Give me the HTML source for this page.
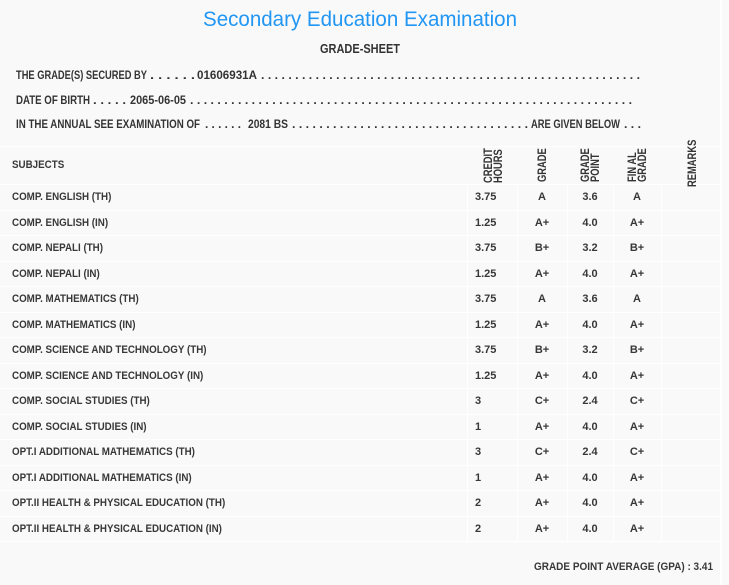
<!DOCTYPE html>
<html>
<head>
<meta charset="utf-8">
<style>
  html, body { margin:0; padding:0; }
  body { width:729px; height:585px; background:#f9f9f9; position:relative; overflow:hidden;
         font-family:"Liberation Sans", "DejaVu Sans", sans-serif; color:#363636; }
  .abs { position:absolute; }
  .fit { position:absolute; white-space:nowrap; line-height:1; }
  .fit > span { display:inline-block; transform-origin:0 0; }
  .title { font-size:21px; color:#2196f3; font-weight:normal; }
  .gs { font-size:13px; font-weight:bold; color:#333; }
  .hl { font-size:12px; font-weight:bold; color:#333; }
  .hline { position:absolute; left:0; width:720px; height:1px; background:#ffffff; }
  .vline { position:absolute; top:184px; height:357px; width:1px; background:#ffffff; }
  .row { position:absolute; left:0; width:720px; height:25.5px; font-size:11px; font-weight:bold; line-height:25.5px; color:#383838; }
  .row > div { position:absolute; top:1px; white-space:nowrap; }
  .sub { left:12px; transform:scaleX(0.89); transform-origin:0 50%; }
  .ch { left:475px; }
  .g { left:517px; width:50px; text-align:center; }
  .gp { left:567px; width:46px; text-align:center; }
  .fg { left:613px; width:48px; text-align:center; }
  .rot { position:absolute; font-size:12px; font-weight:bold; line-height:10px; white-space:nowrap; color:#333;
         transform-origin:0 0; transform:rotate(-90deg) scaleX(0.78); }
</style>
</head>
<body>

<!-- Title -->
<div class="fit title" style="left:203px; top:9px; width:314px;"><span>Secondary Education Examination</span></div>
<div class="fit gs" style="left:320px; top:42px; width:80px;"><span>GRADE-SHEET</span></div>

<!-- Header line 1 -->
<div class="fit hl" style="left:16px; top:69px; width:131px;"><span>THE GRADE(S) SECURED BY</span></div>
<div class="fit hl" style="left:150px; top:69px; width:45px;"><span>. . . . . .</span></div>
<div class="fit hl" style="left:197px; top:69px; width:60px;"><span>01606931A</span></div>
<div class="fit hl" style="left:261px; top:69px; width:379px;"><span>. . . . . . . . . . . . . . . . . . . . . . . . . . . . . . . . . . . . . . . . . . . . . . . . . . . . . . . .</span></div>

<!-- Header line 2 -->
<div class="fit hl" style="left:16px; top:93.5px; width:74px;"><span>DATE OF BIRTH</span></div>
<div class="fit hl" style="left:93px; top:93.5px; width:33px;"><span>. . . . .</span></div>
<div class="fit hl" style="left:130px; top:93.5px; width:56px;"><span>2065-06-05</span></div>
<div class="fit hl" style="left:190px; top:93.5px; width:442px;"><span>. . . . . . . . . . . . . . . . . . . . . . . . . . . . . . . . . . . . . . . . . . . . . . . . . . . . . . . . . . . . . . . . .</span></div>

<!-- Header line 3 -->
<div class="fit hl" style="left:16px; top:117.5px; width:184px;"><span>IN THE ANNUAL SEE EXAMINATION OF</span></div>
<div class="fit hl" style="left:205px; top:117.5px; width:36px;"><span>. . . . . .</span></div>
<div class="fit hl" style="left:248px; top:117.5px; width:40px;"><span>2081 BS</span></div>
<div class="fit hl" style="left:292px; top:117.5px; width:236px;"><span>. . . . . . . . . . . . . . . . . . . . . . . . . . . . . . . . . . .</span></div>
<div class="fit hl" style="left:531px; top:117.5px; width:89px;"><span>ARE GIVEN BELOW</span></div>
<div class="fit hl" style="left:624px; top:117.5px; width:17px;"><span>. . .</span></div>

<!-- right edge line -->
<div class="abs" style="left:720px; top:0; width:2px; height:585px; background:#ffffff;"></div>

<!-- horizontal lines -->
<div class="hline" style="top:146px;"></div>
<div class="hline" style="top:184px;"></div>
<div class="hline" style="top:209.5px;"></div>
<div class="hline" style="top:235px;"></div>
<div class="hline" style="top:260.5px;"></div>
<div class="hline" style="top:286px;"></div>
<div class="hline" style="top:311.5px;"></div>
<div class="hline" style="top:337px;"></div>
<div class="hline" style="top:362.5px;"></div>
<div class="hline" style="top:388px;"></div>
<div class="hline" style="top:413.5px;"></div>
<div class="hline" style="top:439px;"></div>
<div class="hline" style="top:464.5px;"></div>
<div class="hline" style="top:490px;"></div>
<div class="hline" style="top:515.5px;"></div>
<div class="hline" style="top:541px;"></div>

<!-- vertical lines -->
<div class="vline" style="left:467px;"></div>
<div class="vline" style="left:517px;"></div>
<div class="vline" style="left:567px;"></div>
<div class="vline" style="left:613px;"></div>
<div class="vline" style="left:661px;"></div>

<!-- table header -->
<div class="abs" style="left:12px; top:160px; font-size:11px; font-weight:bold; line-height:11px; color:#383838; transform:scaleX(0.89); transform-origin:0 0;">SUBJECTS</div>
<div class="rot" style="left:482.5px; top:183px;">CREDIT<br>HOURS</div>
<div class="rot" style="left:537px; top:182px;">GRADE</div>
<div class="rot" style="left:580px; top:182px;">GRADE<br>POINT</div>
<div class="rot" style="left:627px; top:182px;">FIN AL<br>GRADE</div>
<div class="rot" style="left:686.5px; top:187px;">REMARKS</div>

<!-- rows -->
<div class="row" style="top:184px;"><div class="sub">COMP. ENGLISH (TH)</div><div class="ch">3.75</div><div class="g">A</div><div class="gp">3.6</div><div class="fg">A</div></div>
<div class="row" style="top:209.5px;"><div class="sub">COMP. ENGLISH (IN)</div><div class="ch">1.25</div><div class="g">A+</div><div class="gp">4.0</div><div class="fg">A+</div></div>
<div class="row" style="top:235px;"><div class="sub">COMP. NEPALI (TH)</div><div class="ch">3.75</div><div class="g">B+</div><div class="gp">3.2</div><div class="fg">B+</div></div>
<div class="row" style="top:260.5px;"><div class="sub">COMP. NEPALI (IN)</div><div class="ch">1.25</div><div class="g">A+</div><div class="gp">4.0</div><div class="fg">A+</div></div>
<div class="row" style="top:286px;"><div class="sub">COMP. MATHEMATICS (TH)</div><div class="ch">3.75</div><div class="g">A</div><div class="gp">3.6</div><div class="fg">A</div></div>
<div class="row" style="top:311.5px;"><div class="sub">COMP. MATHEMATICS (IN)</div><div class="ch">1.25</div><div class="g">A+</div><div class="gp">4.0</div><div class="fg">A+</div></div>
<div class="row" style="top:337px;"><div class="sub">COMP. SCIENCE AND TECHNOLOGY (TH)</div><div class="ch">3.75</div><div class="g">B+</div><div class="gp">3.2</div><div class="fg">B+</div></div>
<div class="row" style="top:362.5px;"><div class="sub">COMP. SCIENCE AND TECHNOLOGY (IN)</div><div class="ch">1.25</div><div class="g">A+</div><div class="gp">4.0</div><div class="fg">A+</div></div>
<div class="row" style="top:388px;"><div class="sub">COMP. SOCIAL STUDIES (TH)</div><div class="ch">3</div><div class="g">C+</div><div class="gp">2.4</div><div class="fg">C+</div></div>
<div class="row" style="top:413.5px;"><div class="sub">COMP. SOCIAL STUDIES (IN)</div><div class="ch">1</div><div class="g">A+</div><div class="gp">4.0</div><div class="fg">A+</div></div>
<div class="row" style="top:439px;"><div class="sub">OPT.I ADDITIONAL MATHEMATICS (TH)</div><div class="ch">3</div><div class="g">C+</div><div class="gp">2.4</div><div class="fg">C+</div></div>
<div class="row" style="top:464.5px;"><div class="sub">OPT.I ADDITIONAL MATHEMATICS (IN)</div><div class="ch">1</div><div class="g">A+</div><div class="gp">4.0</div><div class="fg">A+</div></div>
<div class="row" style="top:490px;"><div class="sub">OPT.II HEALTH &amp; PHYSICAL EDUCATION (TH)</div><div class="ch">2</div><div class="g">A+</div><div class="gp">4.0</div><div class="fg">A+</div></div>
<div class="row" style="top:515.5px;"><div class="sub">OPT.II HEALTH &amp; PHYSICAL EDUCATION (IN)</div><div class="ch">2</div><div class="g">A+</div><div class="gp">4.0</div><div class="fg">A+</div></div>

<!-- GPA -->
<div class="fit" style="left:534px; top:561.5px; width:179px; font-size:11px; font-weight:bold; color:#383838;"><span>GRADE POINT AVERAGE (GPA) : 3.41</span></div>

<script>
  document.querySelectorAll('.fit').forEach(function(o){
    var i = o.firstElementChild;
    var w = i.getBoundingClientRect().width;
    if (w > 0) { i.style.transform = 'scaleX(' + (o.clientWidth / w) + ')'; }
  });
</script>
</body>
</html>
